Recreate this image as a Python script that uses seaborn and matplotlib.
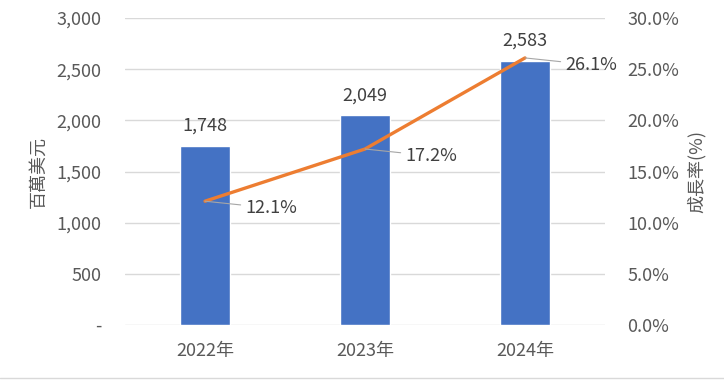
import matplotlib
matplotlib.use('Agg')
import matplotlib.pyplot as plt
from matplotlib.ticker import FuncFormatter, MultipleLocator
import pandas as pd
import seaborn as sns

years = ['2022年', '2023年', '2024年']
revenue = [1748, 2049, 2583]
growth = [12.1, 17.2, 26.1]

sns.set_style('white')
plt.rcParams['font.family'] = ['Noto Sans CJK TC', 'DejaVu Sans']

grey = '#595959'
df = pd.DataFrame({'year': years, 'revenue': revenue, 'growth': growth})

fig = plt.figure(figsize=(7.24, 3.8), dpi=100)
ax = fig.add_axes([0.1727, 0.1447, 0.6629, 0.8079])

sns.barplot(data=df, x='year', y='revenue', color='#4472C4', width=0.31,
            saturation=1, ax=ax, zorder=2)
ax.set_ylim(0, 3000)
ax.yaxis.set_major_locator(MultipleLocator(500))
ax.yaxis.set_major_formatter(FuncFormatter(lambda v, p: '-' if v == 0 else f'{v:,.0f}'))
ax.grid(axis='y', color='#D9D9D9', lw=1, zorder=0)
ax.set_axisbelow(True)
for s in ax.spines.values():
    s.set_visible(False)
ax.tick_params(axis='y', length=0, pad=17, labelsize=13, labelcolor=grey)
ax.tick_params(axis='x', length=0, pad=12, labelsize=13, labelcolor=grey)
ax.set_xlabel('')
ax.set_ylabel('百萬美元', fontsize=13, color=grey, labelpad=6)
ax.bar_label(ax.containers[0], labels=[f'{v:,}' for v in revenue],
             padding=8, fontsize=13, color='#404040')

ax2 = ax.twinx()
sns.pointplot(data=df, x='year', y='growth', color='#ED7D31', markers='',
              linewidth=2.4, ax=ax2)
ax2.set_ylim(0, 30)
ax2.yaxis.set_major_locator(MultipleLocator(5))
ax2.yaxis.set_major_formatter(FuncFormatter(lambda v, p: f'{v:.1f}%'))
for s in ax2.spines.values():
    s.set_visible(False)
ax2.tick_params(axis='y', length=0, pad=16, labelsize=13, labelcolor=grey)
ax2.set_ylabel('成長率(%)', fontsize=13, color=grey, labelpad=6)
ax2.set_xlabel('')
ax2.grid(False)

for i, g in enumerate(growth):
    ax2.annotate(f'{g}%', xy=(i, g), xytext=(29, -5), textcoords='offset points',
                 ha='left', va='center', fontsize=13, color='#404040',
                 arrowprops=dict(arrowstyle='-', color='#A6A6A6', lw=0.8,
                                 shrinkA=1, shrinkB=0))

fig.add_artist(plt.Line2D([0, 1], [0.005, 0.005], color='#D9D9D9', lw=1))
fig.savefig('out.png', dpi=100)
